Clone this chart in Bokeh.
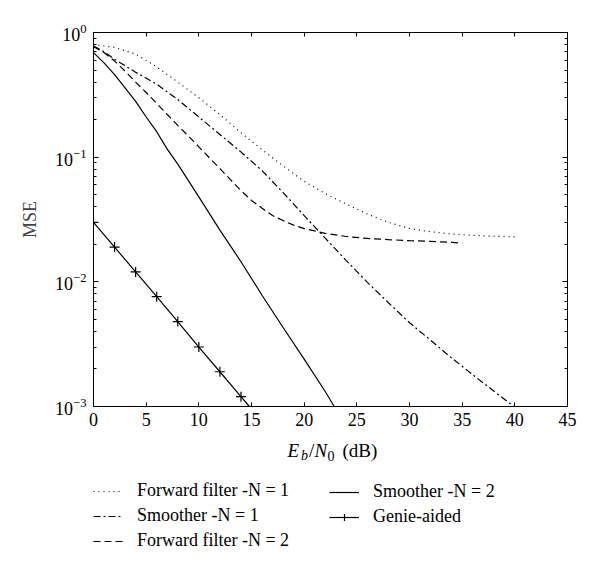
from bokeh.plotting import figure
from bokeh.layouts import column
from bokeh.models import (Range1d, LogAxis, LinearAxis, LogTicker,
                          Legend, LegendItem, Label, CustomJSTickFormatter)
from bokeh.embed import file_html
from bokeh.resources import INLINE

# ---- data ----
ff1_x = [0, 2, 4, 6, 8, 10, 12, 14, 16, 18, 20, 22, 24, 26, 28, 30, 32, 34, 36, 38, 40]
ff1_y = [0.80, 0.76, 0.67, 0.53, 0.40, 0.30, 0.22, 0.157, 0.115, 0.085, 0.064, 0.051,
         0.042, 0.035, 0.030, 0.0268, 0.0252, 0.0242, 0.0236, 0.0232, 0.0229]

sm1_x = [0, 1, 2, 4, 6, 8, 10, 12, 14, 16, 18, 20, 22, 24, 26, 28, 30, 32, 34, 36, 38, 39.9]
sm1_y = [0.78, 0.70, 0.61, 0.48, 0.385, 0.29, 0.21, 0.152, 0.11, 0.078, 0.052, 0.034,
         0.0224, 0.0148, 0.0099, 0.0068, 0.0047, 0.0034, 0.00245, 0.0018, 0.00133, 0.001]

ff2_x = [0, 1, 2, 3, 4, 5, 6, 7, 8, 9, 10, 11, 12, 13, 14, 15, 16, 17, 18, 19, 20,
         22, 24, 26, 28, 30, 32, 34, 35]
ff2_y = [0.77, 0.69, 0.59, 0.49, 0.40, 0.33, 0.27, 0.22, 0.18, 0.148, 0.121, 0.099,
         0.081, 0.066, 0.054, 0.045, 0.039, 0.034, 0.031, 0.0285, 0.0267,
         0.0245, 0.0231, 0.0223, 0.0218, 0.0214, 0.0211, 0.0207, 0.0204]

sm2_x = [0, 1, 2, 3, 4, 5, 6, 7, 8, 10, 12, 14, 16, 18, 20, 22, 22.85]
sm2_y = [0.69, 0.57, 0.46, 0.36, 0.28, 0.21, 0.16, 0.116, 0.088, 0.048, 0.026, 0.0145,
         0.0078, 0.0043, 0.0024, 0.00132, 0.001]

genie_x = [0, 2, 4, 6, 8, 10, 12, 14, 14.8]
genie_y = [0.030, 0.019, 0.012, 0.0076, 0.0048, 0.0030, 0.0019, 0.0012, 0.001]
genie_mark_x = genie_x[:8]
genie_mark_y = genie_y[:8]

x_ticks = [0, 5, 10, 15, 20, 25, 30, 35, 40, 45]

labels = ["Forward filter -N = 1", "Smoother -N = 1", "Forward filter -N = 2",
          "Smoother -N = 2", "Genie-aided"]

FONT = "Liberation Serif"
LW = 1.2
STYLES = [dict(line_dash="1 4"), dict(line_dash="7 3 2 3"), dict(line_dash="7 4"),
          dict(), dict()]

# ---------------- main plot ----------------
p = figure(width=600, height=434,
           x_range=Range1d(0, 45), y_range=Range1d(1e-3, 1),
           y_axis_type="log",
           output_backend="svg", toolbar_location=None,
           min_border_left=93, min_border_right=33,
           min_border_top=32, min_border_bottom=28)
p.grid.visible = False
p.outline_line_color = None


def draw(fig, visible=True):
    rs = []
    for (xs, ys), st in zip([(ff1_x, ff1_y), (sm1_x, sm1_y), (ff2_x, ff2_y),
                             (sm2_x, sm2_y), (genie_x, genie_y)], STYLES):
        rs.append(fig.line(xs, ys, line_color="black", line_width=LW, visible=visible, **st))
    m = fig.scatter(genie_mark_x, genie_mark_y, marker="cross", size=10,
                    line_color="black", line_width=LW, visible=visible)
    return rs, m


draw(p)

xa = p.xaxis[0]
xa.ticker = x_ticks
xa.major_tick_in = 4
xa.major_tick_out = 0
xa.minor_tick_in = 0
xa.minor_tick_out = 0
xa.axis_line_color = "black"
xa.major_label_text_font = FONT
xa.major_label_text_font_size = "18px"
xa.major_label_text_color = "black"
xa.major_label_standoff = 6

ya = p.yaxis[0]
ya.ticker = LogTicker(num_minor_ticks=10)
ya.major_tick_in = 5
ya.major_tick_out = 0
ya.minor_tick_in = 3
ya.minor_tick_out = 0
ya.axis_line_color = "black"
ya.major_label_text_font = FONT
ya.major_label_text_font_size = "18px"
ya.major_label_text_color = "black"
ya.major_label_standoff = 7
ya.axis_label = "MSE"
ya.axis_label_text_font = FONT
ya.axis_label_text_font_style = "normal"
ya.axis_label_text_font_size = "18px"
ya.axis_label_standoff = 12

blank = CustomJSTickFormatter(code="return ''")
top = LinearAxis(ticker=x_ticks, formatter=blank,
                 major_tick_in=4, major_tick_out=0, minor_tick_in=0, minor_tick_out=0,
                 axis_line_color="black", major_label_text_font_size="1px")
right = LogAxis(ticker=LogTicker(num_minor_ticks=10), formatter=blank,
                major_tick_in=5, major_tick_out=0, minor_tick_in=3, minor_tick_out=0,
                axis_line_color="black", major_label_text_font_size="1px")
p.add_layout(top, "above")
p.add_layout(right, "right")

# ---------------- lower strip: x-axis label + legend ----------------
# (its frame is aligned with the main frame: x positions are measured from the frame's left edge)
H2 = 132
q = figure(width=600, height=H2, x_range=Range1d(0, 474), y_range=Range1d(0, H2),
           output_backend="svg", toolbar_location=None,
           min_border_left=93, min_border_right=33, min_border_top=0, min_border_bottom=0,
           x_axis_location=None, y_axis_location=None)
q.grid.visible = False
q.outline_line_color = None

BY = 116
X0 = 194
parts = [
    ("E", X0, BY, "italic", "19px"),
    ("b", X0 + 13.5, BY - 5, "italic", "14px"),
    ("/", X0 + 21.5, BY, "normal", "19px"),
    ("N", X0 + 27, BY, "italic", "19px"),
    ("0", X0 + 40, BY - 5, "normal", "14px"),
    ("(dB)", X0 + 55, BY, "normal", "19px"),
]
for t, xx, yy, st, fs in parts:
    q.add_layout(Label(x=xx, y=yy, x_units="screen", y_units="screen", text=t,
                       text_font=FONT, text_font_style=st, text_font_size=fs,
                       text_color="black", text_baseline="alphabetic", text_align="left"))

lines, marks = draw(q, visible=False)

leg_kw = dict(label_text_font=FONT, label_text_font_size="18px", label_text_color="black",
              glyph_width=30, glyph_height=18, label_height=18, label_standoff=14,
              spacing=4, padding=0, margin=0, border_line_color=None,
              background_fill_alpha=0, inactive_fill_alpha=0, orientation="vertical")
leg1 = Legend(items=[LegendItem(label=labels[i], renderers=[lines[i]]) for i in range(3)],
              location=(0, 15), **leg_kw)
leg2 = Legend(items=[LegendItem(label=labels[3], renderers=[lines[3]]),
                     LegendItem(label=labels[4], renderers=[lines[4], marks])],
              location=(236, 39), **leg_kw)
q.add_layout(leg1, "center")
q.add_layout(leg2, "center")

layout = column(p, q, spacing=0)
open("out.html", "w").write(file_html(layout, INLINE))
